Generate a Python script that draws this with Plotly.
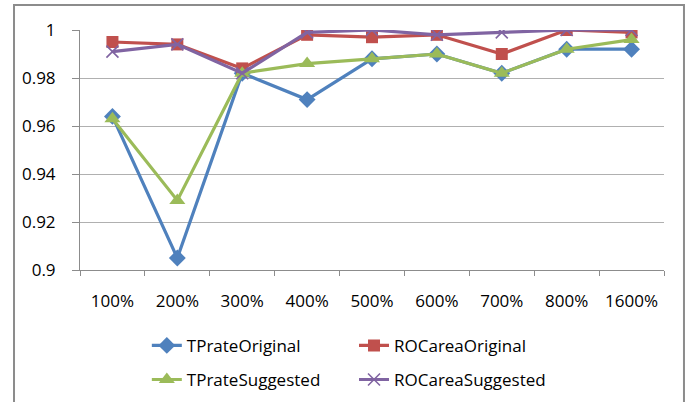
import plotly.graph_objects as go

# Categories (oversampling ratio) and the four measured series
categories = ["100%", "200%", "300%", "400%", "500%", "600%", "700%", "800%", "1600%"]
tp_rate_original = [0.964, 0.905, 0.982, 0.971, 0.988, 0.990, 0.982, 0.992, 0.992]
roc_area_original = [0.995, 0.994, 0.984, 0.998, 0.997, 0.998, 0.990, 1.000, 0.999]
tp_rate_suggested = [0.963, 0.929, 0.982, 0.986, 0.988, 0.990, 0.982, 0.992, 0.996]
roc_area_suggested = [0.991, 0.994, 0.982, 0.999, 1.000, 0.998, 0.999, 1.000, 1.000]

y_ticks = [0.9, 0.92, 0.94, 0.96, 0.98, 1.0]
y_tick_text = ["0.9", "0.92", "0.94", "0.96", "0.98", "1"]

FONT = "Open Sans"
BLUE = "#4F81BD"
RED = "#C0504D"
GREEN = "#9BBB59"
PURPLE = "#8064A2"

fig = go.Figure()

series = [
    ("TPrateOriginal", tp_rate_original, BLUE, "diamond", 13, "legend"),
    ("ROCareaOriginal", roc_area_original, RED, "square", 12, "legend2"),
    ("TPrateSuggested", tp_rate_suggested, GREEN, "triangle-up", 14, "legend"),
    ("ROCareaSuggested", roc_area_suggested, PURPLE, "x-thin", 12, "legend2"),
]

for name, values, color, symbol, size, leg in series:
    marker = dict(symbol=symbol, size=size, color=color)
    if symbol == "x-thin":
        marker["line"] = dict(color=color, width=1.6)
    else:
        marker["line"] = dict(color=color, width=0)
    fig.add_trace(
        go.Scatter(
            x=categories,
            y=values,
            name=name,
            mode="lines+markers",
            line=dict(color=color, width=3.2),
            marker=marker,
            legend=leg,
            legendgroup=name,
        )
    )

legend_common = dict(
    orientation="v",
    xref="container",
    yref="container",
    xanchor="left",
    yanchor="top",
    font=dict(family=FONT, size=17, color="#000000"),
    bgcolor="rgba(0,0,0,0)",
    tracegroupgap=9,
    itemwidth=30,
)

fig.update_layout(
    width=689,
    height=402,
    margin=dict(l=80, r=25, t=30, b=132, autoexpand=False),
    paper_bgcolor="white",
    plot_bgcolor="white",
    font=dict(family=FONT, size=17, color="#000000"),
    showlegend=True,
    legend=dict(x=0.2131, y=0.1845, **legend_common),
    legend2=dict(x=0.5138, y=0.1845, **legend_common),
    xaxis=dict(
        type="category",
        range=[-0.5, 8.5],
        showline=True,
        linecolor="#8C8C8C",
        linewidth=1,
        ticks="outside",
        tickson="boundaries",
        ticklen=5,
        tickcolor="#8C8C8C",
        showgrid=False,
        tickfont=dict(family=FONT, size=17),
        ticklabelstandoff=16,
        zeroline=False,
        automargin=False,
    ),
    yaxis=dict(
        range=[0.9, 1.0],
        tickvals=y_ticks,
        ticktext=y_tick_text,
        showline=True,
        linecolor="#8C8C8C",
        linewidth=1,
        ticks="outside",
        ticklen=7,
        tickcolor="#8C8C8C",
        showgrid=True,
        gridcolor="#B0B0B0",
        gridwidth=1,
        tickfont=dict(family=FONT, size=17),
        ticklabelstandoff=13,
        zeroline=False,
        automargin=False,
    ),
    shapes=[
        dict(
            type="rect",
            xref="paper",
            yref="paper",
            x0=-0.113,
            x1=1.0342,
            y0=-0.6,
            y1=1.104,
            line=dict(color="#8C8C8C", width=2),
            fillcolor="rgba(0,0,0,0)",
            layer="below",
        )
    ],
)

fig.write_html("out.html")
